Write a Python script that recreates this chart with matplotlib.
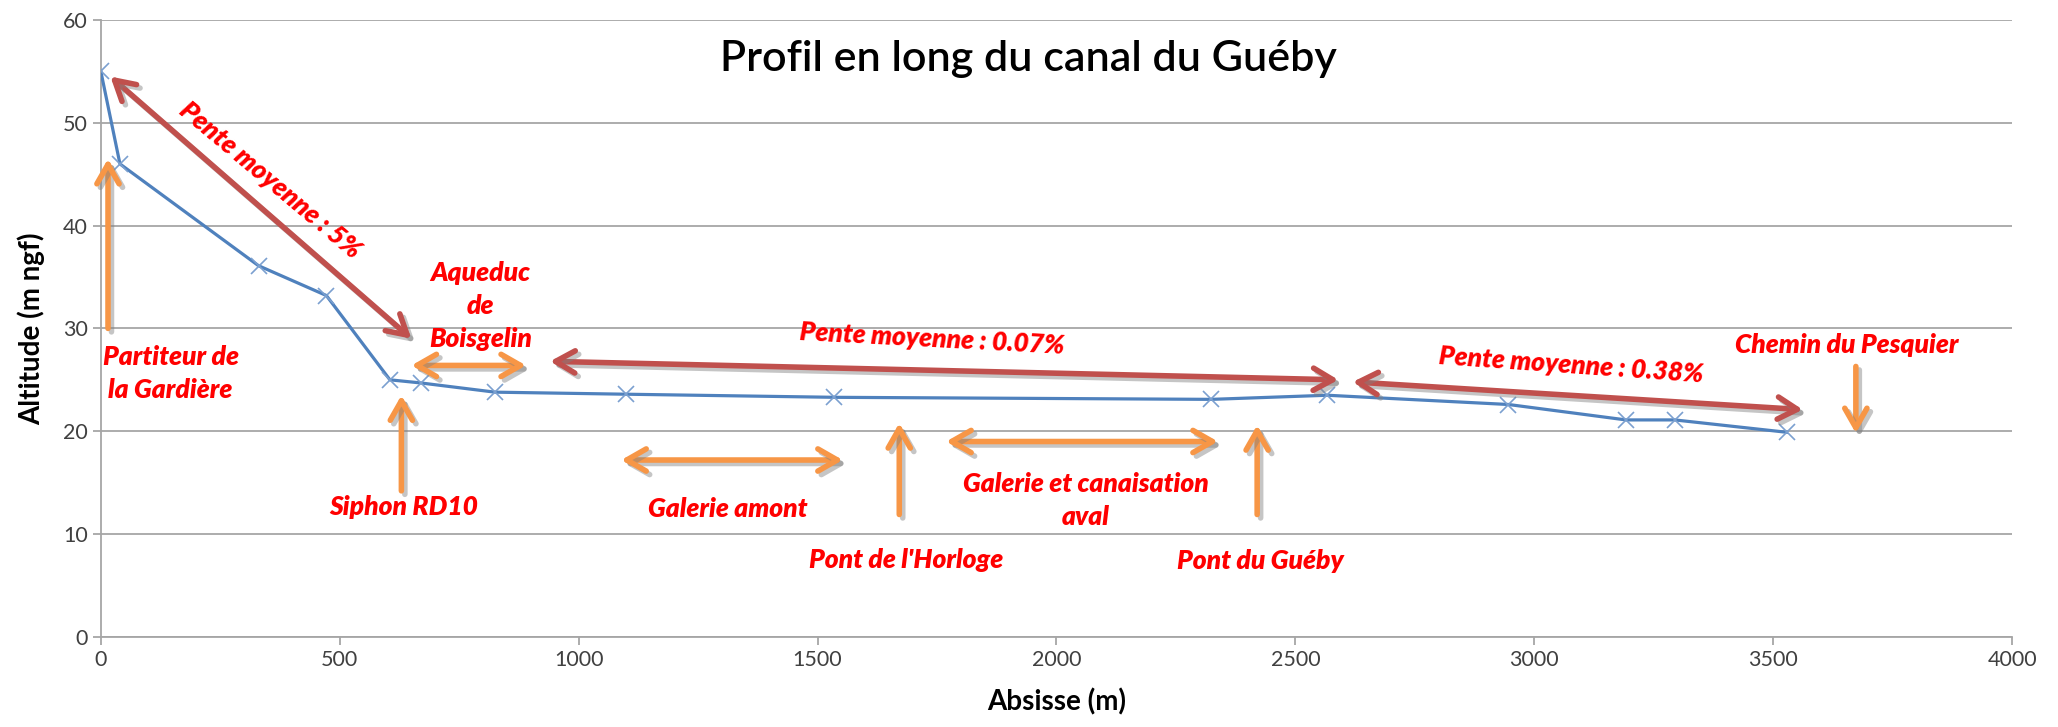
import matplotlib.pyplot as plt
import matplotlib.patheffects as pe

# profil en long du canal (abscisse en m, altitude en m ngf)
abscisse = [0, 40, 330, 472, 605, 669, 825, 1100, 1534, 2324, 2567, 2946, 3192, 3294, 3528]
altitude = [55, 46, 36.1, 33.2, 25.0, 24.7, 23.8, 23.6, 23.3, 23.1, 23.5, 22.6, 21.1, 21.1, 19.9]

xticks = list(range(0, 4001, 500))
yticks = list(range(0, 61, 10))

plt.rcParams['font.family'] = ['Lato', 'DejaVu Sans']

RED = '#C0504D'
ORANGE = '#F79646'
shadow = [pe.SimpleLineShadow(offset=(2.5, -2.5), shadow_color='#808080', alpha=0.45), pe.Normal()]

fig = plt.figure(figsize=(20.58, 7.27), dpi=100)
ax = fig.add_axes([0.049, 0.124, 0.9287, 0.8485])

ax.plot(abscisse, altitude, color='#4F81BD', lw=2.3, marker='x', ms=12,
        mec='#7BA0D0', mew=1.2, zorder=3)

ax.set_xlim(0, 4000)
ax.set_ylim(0, 60)
ax.set_xticks(xticks)
ax.set_yticks(yticks)
ax.grid(axis='y', color='#A6A6A6', lw=1.3)
ax.set_axisbelow(True)
for s in ['top', 'right']:
    ax.spines[s].set_visible(False)
for s in ['left', 'bottom']:
    ax.spines[s].set_color('#A6A6A6')
    ax.spines[s].set_linewidth(1.3)
ax.tick_params(colors='#A6A6A6', labelcolor='#404040', labelsize=15.5, length=6, width=1.3)

ax.set_xlabel('Absisse (m)', fontsize=20, fontweight='bold', labelpad=13)
ax.set_ylabel('Altitude (m ngf)', fontsize=20, fontweight='bold', labelpad=13)

ax.text(1941, 56.2, 'Profil en long du canal du Guéby', fontsize=31,
        fontweight='semibold', ha='center', va='center')


def arrow(x0, y0, x1, y1, color, style='<->'):
    ax.annotate('', xy=(x1, y1), xytext=(x0, y0), zorder=4,
                arrowprops=dict(arrowstyle=style + ',head_length=0.7,head_width=0.4',
                                color=color, lw=4, shrinkA=0, shrinkB=0, mutation_scale=20,
                                path_effects=shadow))


def label(x, y, s, rot=0):
    ax.text(x, y, s, color='#FF0000', fontsize=19, fontweight='heavy', fontstyle='italic',
            ha='center', va='center', rotation=rot, rotation_mode='anchor',
            linespacing=1.45, zorder=5)


# pentes moyennes
arrow(20, 54.5, 650, 29, RED)
label(354, 44.4, 'Pente moyenne : 5%', rot=-40)
arrow(940, 26.8, 2590, 25.0, RED)
label(1740, 29.0, 'Pente moyenne : 0.07%', rot=-3)
arrow(2620, 24.8, 3562, 22.1, RED)
label(3076, 26.4, 'Pente moyenne : 0.38%', rot=-4)

# ouvrages
arrow(15, 30, 15, 46.5, ORANGE, '->')
label(146, 25.6, 'Partiteur de\nla Gardière')
arrow(629, 14.2, 629, 23.5, ORANGE, '->')
label(633, 12.6, 'Siphon RD10')
arrow(650, 26.4, 890, 26.4, ORANGE)
label(795, 32.2, 'Aqueduc\nde\nBoisgelin')
arrow(1089, 17.2, 1553, 17.2, ORANGE)
label(1311, 12.4, 'Galerie amont')
arrow(1671, 11.9, 1671, 20.8, ORANGE, '->')
label(1685, 7.5, "Pont de l'Horloge")
arrow(1769, 19.0, 2338, 19.0, ORANGE)
label(2062, 13.3, 'Galerie et canaisation\naval')
arrow(2420, 11.9, 2420, 20.6, ORANGE, '->')
label(2426, 7.35, 'Pont du Guéby')
arrow(3673, 26.3, 3673, 19.8, ORANGE, '->')
label(3653, 28.4, 'Chemin du Pesquier')

fig.savefig('out.png', dpi=100)
